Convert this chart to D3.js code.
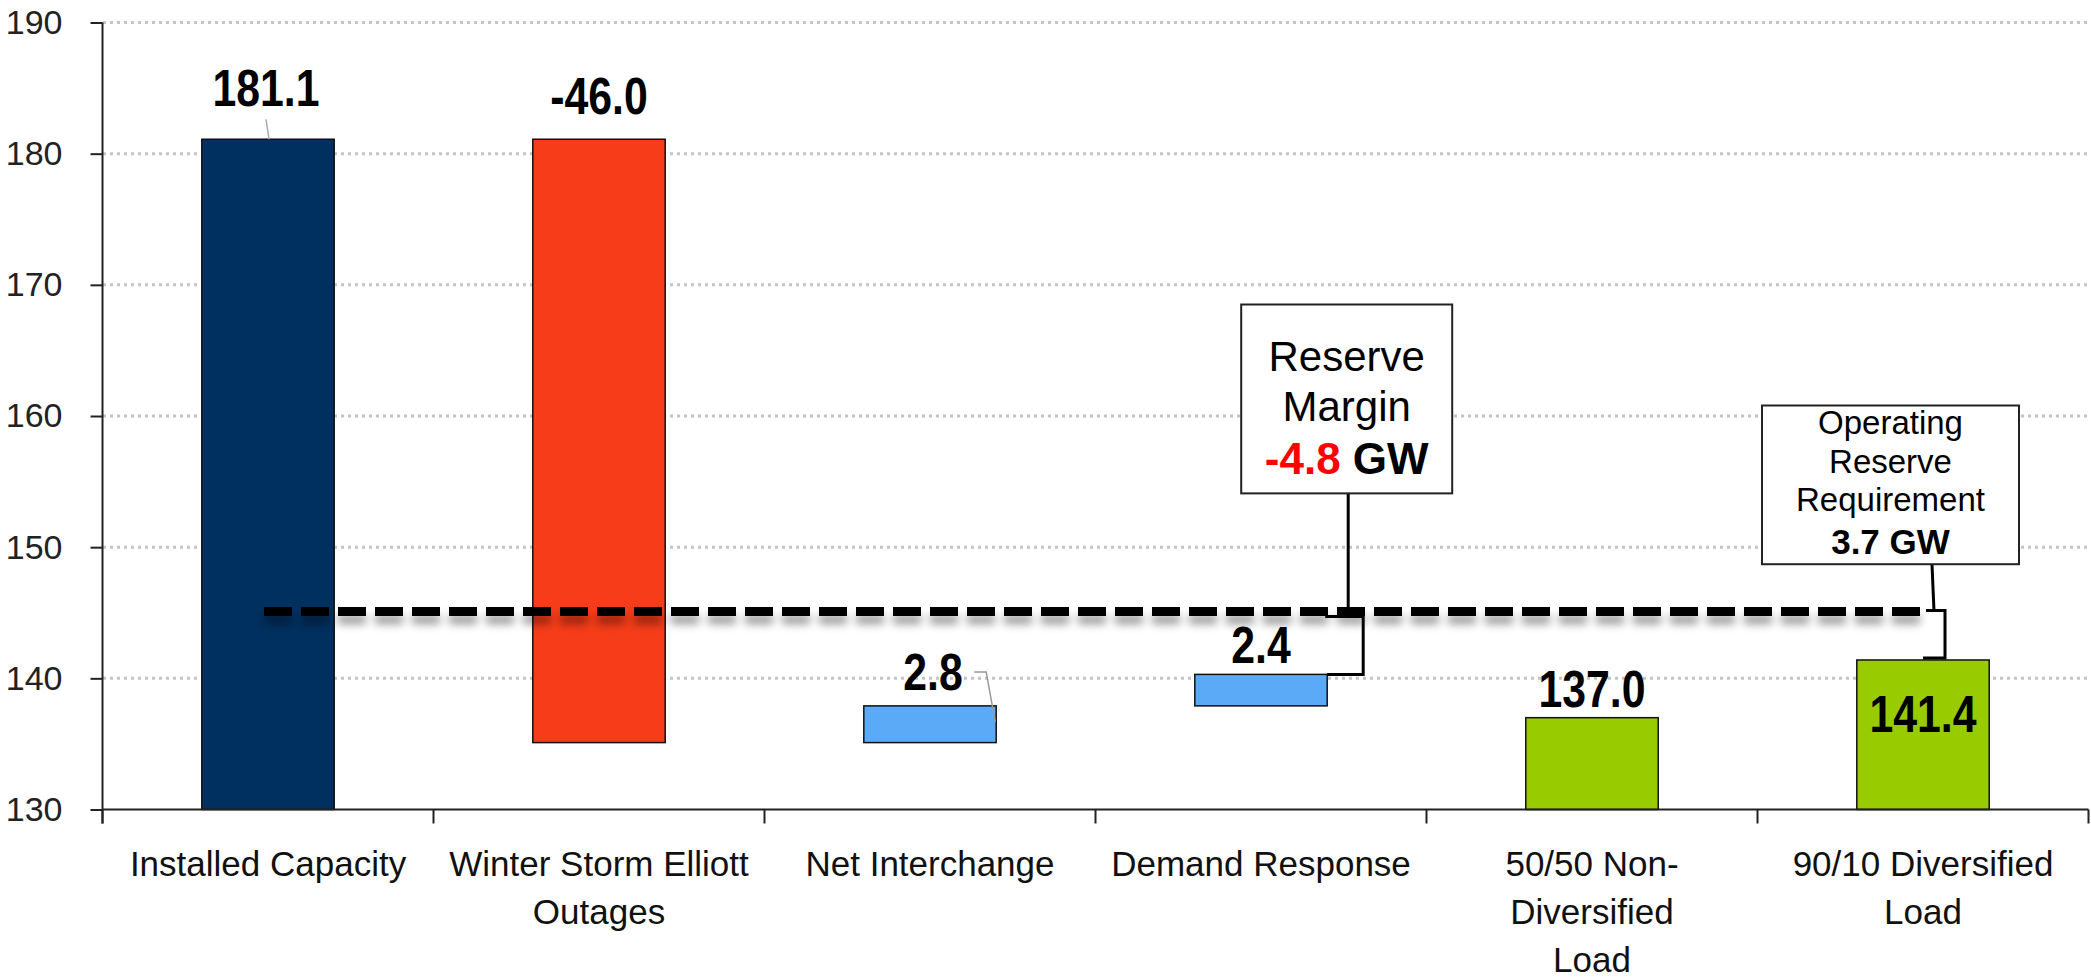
<!DOCTYPE html>
<html>
<head>
<meta charset="utf-8">
<script src="https://cdn.jsdelivr.net/npm/d3@7"></script>
<style>
  body { margin: 0; background: #fff; }
  text { font-family: "Liberation Sans", Arial, sans-serif; }
  .num { font-weight: bold; }
</style>
</head>
<body>
<div id="plot"></div>
<script>
var categories = ["Installed Capacity", "Winter Storm Elliott Outages", "Net Interchange",
                  "Demand Response", "50/50 Non-Diversified Load", "90/10 Diversified Load"];
var xLabelLines = [["Installed Capacity"], ["Winter Storm Elliott", "Outages"], ["Net Interchange"],
                   ["Demand Response"], ["50/50 Non-", "Diversified", "Load"], ["90/10 Diversified", "Load"]];
var values = [181.1, -46.0, 2.8, 2.4, 137.0, 141.4];
var kinds = ["total", "delta", "delta", "delta", "total", "total"];
var yTicks = [130, 140, 150, 160, 170, 180, 190];
var operatingReserve = 3.7;
var reserveMargin = -4.8;

var colors = ["#00305f", "#f63c18", "#5aaaf8", "#5aaaf8", "#99cc00", "#99cc00"];
var labelDy = [33, 25, 16, 11, 11, -72];

var width = 2091, height = 980;
var yMin = 130;
var fmt = function(v) { return v.toFixed(1); };

var svg = d3.select("#plot").append("svg")
  .attr("width", width).attr("height", height);

var defs = svg.append("defs");
var f = defs.append("filter").attr("id", "shadow").attr("filterUnits", "userSpaceOnUse")
  .attr("x", 0).attr("y", 0).attr("width", width).attr("height", height);
f.append("feDropShadow").attr("dx", 0).attr("dy", 8).attr("stdDeviation", 4)
  .attr("flood-color", "#000").attr("flood-opacity", 0.4);

var x = d3.scaleBand().domain(categories).range([102.5, 2088.5])
  .paddingInner(0.6).paddingOuter(0.3);
var y = d3.scaleLinear().domain([130, 190]).range([809.5, 22.5]);

// waterfall bounds
var bars = [];
var running = 0;
values.forEach(function(v, i) {
  var lo, hi;
  if (kinds[i] == "total") { lo = yMin; hi = v; running = v; }
  else { var s = running; running = s + v; lo = Math.min(s, running); hi = Math.max(s, running); }
  bars.push({cat: categories[i], lo: lo, hi: hi, v: v, i: i, top: hi});
});

// grid
svg.append("g").selectAll("line").data(yTicks.slice(1)).enter().append("line")
  .attr("x1", 103).attr("x2", 2088)
  .attr("y1", function(d) { return y(d); }).attr("y2", function(d) { return y(d); })
  .attr("stroke", "#c4c4c4").attr("stroke-width", 3).attr("stroke-dasharray", "3,4");

// bars
svg.append("g").selectAll("rect").data(bars).enter().append("rect")
  .attr("x", function(d) { return x(d.cat); })
  .attr("width", x.bandwidth())
  .attr("y", function(d) { return y(d.hi); })
  .attr("height", function(d) { return y(d.lo) - y(d.hi); })
  .attr("fill", function(d) { return colors[d.i]; })
  .attr("stroke", "#111").attr("stroke-width", 1.5);

// axes
var yAxis = svg.append("g").attr("transform", "translate(102.5,0)")
  .call(d3.axisLeft(y).tickValues(yTicks).tickSize(12).tickSizeOuter(0).tickPadding(28).tickFormat(d3.format("d")));
yAxis.select(".domain").remove();
yAxis.selectAll("line").attr("stroke", "#222").attr("stroke-width", 2);
yAxis.selectAll("text").style("font-size", "34px").attr("fill", "#222");

svg.append("line").attr("x1", 102.5).attr("x2", 102.5)
  .attr("y1", y(190)).attr("y2", y(130) + 14).attr("stroke", "#222").attr("stroke-width", 2);
svg.append("line").attr("x1", 102.5).attr("x2", 2088.5)
  .attr("y1", y(130)).attr("y2", y(130)).attr("stroke", "#222").attr("stroke-width", 2);

var bounds = d3.range(categories.length + 1).map(function(i) { return 102.5 + i * x.step(); });
svg.append("g").selectAll("line").data(bounds).enter().append("line")
  .attr("x1", function(d) { return d; }).attr("x2", function(d) { return d; })
  .attr("y1", y(130)).attr("y2", y(130) + 14)
  .attr("stroke", "#222").attr("stroke-width", 2);

// x labels
var xl = svg.append("g").selectAll("text").data(xLabelLines).enter().append("text")
  .attr("text-anchor", "middle").style("font-size", "35px").attr("fill", "#111")
  .attr("transform", function(d, i) { return "translate(" + (x(categories[i]) + x.bandwidth() / 2) + ",876)"; });
xl.selectAll("tspan").data(function(d) { return d; }).enter().append("tspan")
  .attr("x", 0).attr("y", function(d, j) { return j * 48; }).text(function(d) { return d; });

// value labels (condensed bold)
svg.append("g").selectAll("text").data(bars).enter().append("text")
  .attr("class", "num").attr("text-anchor", "middle").style("font-size", "51px")
  .attr("transform", function(d) {
    var cx = x(d.cat) + x.bandwidth() / 2 + (d.i == 2 ? 3 : 0) - (d.i == 0 ? 2 : 0);
    return "translate(" + cx + "," + (y(d.top) - labelDy[d.i]) + ") scale(0.84,1)";
  })
  .text(function(d) { return fmt(d.v); });

// leader lines
var c0 = x(categories[0]) + x.bandwidth() / 2;
svg.append("line").attr("x1", c0 - 2).attr("y1", y(bars[0].top) - 20)
  .attr("x2", c0 + 1).attr("y2", y(bars[0].top)).attr("stroke", "#aaa").attr("stroke-width", 1.5);
var r2 = x(categories[2]) + x.bandwidth();
svg.append("polyline").attr("fill", "none").attr("stroke", "#999").attr("stroke-width", 1.5)
  .attr("points", [[r2 - 22, y(bars[2].top) - 34], [r2 - 10, y(bars[2].top) - 34], [r2 - 1, y(bars[2].top) + 16]].join(" "));

// reserve requirement line
var reqLevel = values[5] + operatingReserve;
var bx2 = x(categories[5]) + x.bandwidth() / 2 + 22;
var bx1 = x(categories[3]) + x.bandwidth() + 36;
svg.append("line").attr("x1", c0 - 4).attr("x2", bx2 - 18)
  .attr("y1", y(reqLevel)).attr("y2", y(reqLevel))
  .attr("stroke", "#000").attr("stroke-width", 9).attr("stroke-dasharray", "28,9")
  .attr("filter", "url(#shadow)");

// reserve margin bracket
var dr = bars[3];
svg.append("polyline").attr("fill", "none").attr("stroke", "#000").attr("stroke-width", 3)
  .attr("points", [[bx1 - 38, y(reqLevel) + 5], [bx1, y(reqLevel) + 5], [bx1, y(dr.hi)], [x(dr.cat) + x.bandwidth(), y(dr.hi)]].join(" "));
// operating reserve bracket
svg.append("polyline").attr("fill", "none").attr("stroke", "#000").attr("stroke-width", 3)
  .attr("points", [[bx2 - 19, y(reqLevel) - 1], [bx2, y(reqLevel) - 1], [bx2, y(values[5]) - 2], [bx2 - 22, y(values[5]) - 2]].join(" "));

// callout boxes
function callout(cx, top, bottom, w, lines, fontSize, tx, ty) {
  var g = svg.append("g");
  g.append("line").attr("x1", tx).attr("y1", y(bottom)).attr("x2", ty[0]).attr("y2", ty[1])
    .attr("stroke", "#000").attr("stroke-width", 3);
  g.append("rect").attr("x", cx - w / 2).attr("y", y(top)).attr("width", w)
    .attr("height", y(bottom) - y(top)).attr("fill", "#fff").attr("stroke", "#222").attr("stroke-width", 2);
  lines.forEach(function(l) {
    var t = g.append("text").attr("x", cx).attr("y", y(top) + l.dy).attr("text-anchor", "middle")
      .style("font-size", fontSize + "px");
    l.parts.forEach(function(p) {
      t.append("tspan").text(p.t).attr("fill", p.c || "#000")
        .style("font-weight", p.b ? "bold" : "normal").style("font-size", (p.s || fontSize) + "px");
    });
  });
}

callout(bx1 - 16.5, 168.5, 154.1, 211, [
  {dy: 66, parts: [{t: "Reserve"}]},
  {dy: 116, parts: [{t: "Margin"}]},
  {dy: 169, parts: [{t: fmt(reserveMargin), c: "#ff0000", b: true, s: 44}, {t: " GW", b: true, s: 44}]}
], 42, bx1 - 15, [bx1 - 15, y(reqLevel)]);

callout(bx2 - 54.5, 160.8, 148.7, 257, [
  {dy: 28, parts: [{t: "Operating"}]},
  {dy: 67, parts: [{t: "Reserve"}]},
  {dy: 105, parts: [{t: "Requirement"}]},
  {dy: 148, parts: [{t: fmt(operatingReserve) + " GW", b: true, s: 35}]}
], 33, bx2 - 13, [bx2 - 11, y(reqLevel)]);
</script>
</body>
</html>
